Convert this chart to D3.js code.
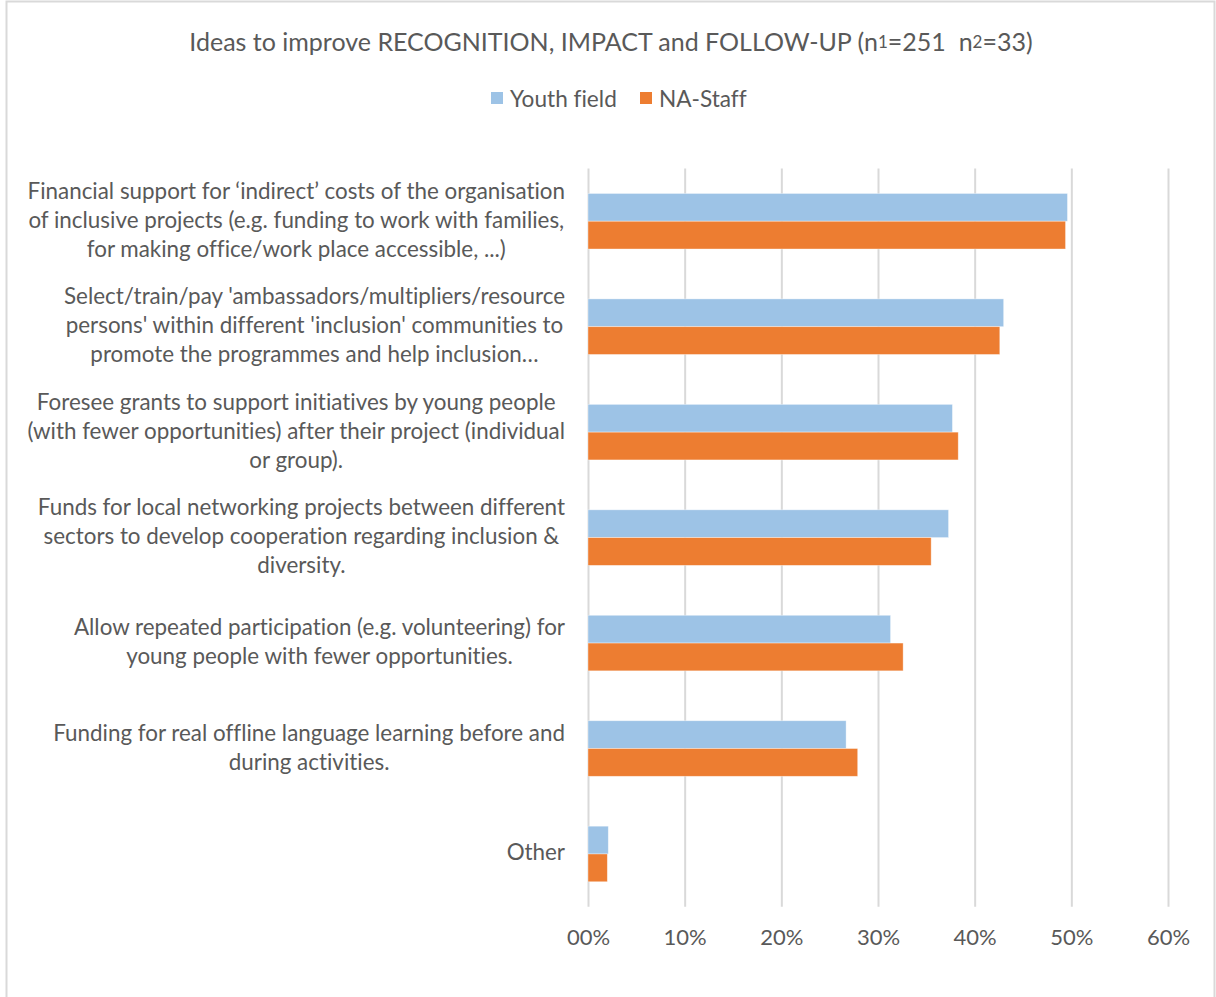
<!DOCTYPE html>
<html>
<head>
<meta charset="utf-8">
<script src="https://cdn.jsdelivr.net/npm/d3@7"></script>
<style>
  html, body { margin: 0; padding: 0; background: #fff; }
  svg { display: block; }
  text { font-family: Lato, "Open Sans", sans-serif; fill: #595959; font-variant-ligatures: none; }
</style>
</head>
<body>
<svg id="chart" width="1216" height="997"></svg>
<script>
// Survey answers: share of respondents choosing each idea
const categories = [
  "Financial support for indirect costs",
  "Ambassadors / multipliers",
  "Grants for follow-up initiatives",
  "Local networking projects",
  "Repeated participation",
  "Offline language learning",
  "Other"
];
const categoryLines = [
  ["Financial support for \u2018indirect\u2019 costs of the organisation",
   "of inclusive projects (e.g. funding to work with families,",
   "for making office/work place accessible, ...)"],
  ["Select/train/pay 'ambassadors/multipliers/resource",
   "persons' within different 'inclusion' communities to",
   "promote the programmes and help inclusion\u2026"],
  ["Foresee grants to support initiatives by young people",
   "(with fewer opportunities) after their project (individual",
   "or group)."],
  ["Funds for local networking projects between different",
   "sectors to develop cooperation regarding inclusion &",
   "diversity."],
  ["Allow repeated participation (e.g. volunteering) for",
   "young people with fewer opportunities."],
  ["Funding for real offline language learning before and",
   "during activities."],
  ["Other"]
];
const seriesNames = ["Youth field", "NA-Staff"];
const youthField = [0.496, 0.430, 0.377, 0.373, 0.313, 0.267, 0.021];
const naStaff    = [0.494, 0.426, 0.383, 0.355, 0.326, 0.279, 0.020];
const xTicks = [0, 0.1, 0.2, 0.3, 0.4, 0.5, 0.6];
const colors = ["#9DC3E6", "#ED7D31"];

const svg = d3.select("#chart");
const W = 1216, H = 997;

// chart frame
svg.append("rect")
  .attr("x", 6.5).attr("y", 1.5)
  .attr("width", 1208).attr("height", H)
  .attr("fill", "#fff").attr("stroke", "#D9D9D9").attr("stroke-width", 2);

const plot = { left: 588, right: 1168, top: 168.5, bottom: 906.7 };

const x = d3.scaleLinear().domain([0, 0.6]).range([plot.left, plot.right]);
const y = d3.scaleBand().domain(categories)
  .range([plot.top, plot.bottom])
  .paddingInner(0.473).paddingOuter(0.2365);
const ySub = d3.scaleBand().domain(seriesNames).range([0, y.bandwidth()]);

// vertical gridlines + tick labels via the axis generator
const xAxis = d3.axisBottom(x)
  .tickValues(xTicks)
  .tickSize(-(plot.bottom - plot.top))
  .tickPadding(23)
  .tickFormat(d => d === 0 ? "00%" : d3.format(".0%")(d));

const gx = svg.append("g")
  .attr("transform", `translate(0,${plot.bottom})`)
  .call(xAxis);
gx.select(".domain").remove();
gx.selectAll(".tick line").attr("stroke", "#D9D9D9").attr("stroke-width", 2);
gx.selectAll(".tick text")
  .attr("font-size", 22)
  .attr("font-family", "Lato, 'Open Sans', sans-serif")
  .attr("fill", "#595959");

// bars
const rows = categories.map((c, i) => ({
  cat: c,
  vals: [
    { s: seriesNames[0], v: youthField[i] },
    { s: seriesNames[1], v: naStaff[i] }
  ]
}));

const groups = svg.append("g").selectAll("g")
  .data(rows).join("g")
  .attr("transform", d => `translate(0,${y(d.cat)})`);

groups.selectAll("rect")
  .data(d => d.vals).join("rect")
  .attr("x", x(0))
  .attr("y", d => ySub(d.s))
  .attr("width", d => x(d.v) - x(0))
  .attr("height", ySub.bandwidth())
  .attr("fill", (d, i) => colors[i])
  .attr("stroke", "#fff").attr("stroke-opacity", 0.5).attr("stroke-width", 0.75);

// category labels: wrapped, centred lines, block right-aligned to the axis
const labelRight = 565;
const lineH = 29;
const labels = svg.append("g").attr("font-size", 22.4);
categories.forEach((c, i) => {
  const lines = categoryLines[i];
  const cy = y(c) + y.bandwidth() / 2 - 2;
  const g = labels.append("g");
  const texts = lines.map((ln, j) =>
    g.append("text")
      .attr("text-anchor", "middle")
      .attr("dominant-baseline", "central")
      .attr("y", cy + (j - (lines.length - 1) / 2) * lineH)
      .text(ln));
  const maxW = d3.max(texts, t => t.node().getComputedTextLength());
  texts.forEach(t => t.attr("x", labelRight - maxW / 2));
});

// title
const title = svg.append("text")
  .attr("x", 611).attr("y", 41)
  .attr("text-anchor", "middle")
  .attr("dominant-baseline", "central")
  .attr("font-size", 25);
title.append("tspan").text("Ideas to improve RECOGNITION, IMPACT and FOLLOW-UP (n");
title.append("tspan").attr("font-size", 17).text("1");
title.append("tspan").text("=251  n").attr("xml:space", "preserve");
title.append("tspan").attr("font-size", 17).text("2");
title.append("tspan").text("=33)");

// legend
const legend = svg.append("g").attr("font-size", 22.6);
const legendItems = [{ x: 491, name: seriesNames[0], c: colors[0] },
                     { x: 640, name: seriesNames[1], c: colors[1] }];
legendItems.forEach(it => {
  legend.append("rect").attr("x", it.x).attr("y", 92)
    .attr("width", 12).attr("height", 12).attr("fill", it.c);
  legend.append("text").attr("x", it.x + 19).attr("y", 98)
    .attr("dominant-baseline", "central").text(it.name);
});
</script>
</body>
</html>
